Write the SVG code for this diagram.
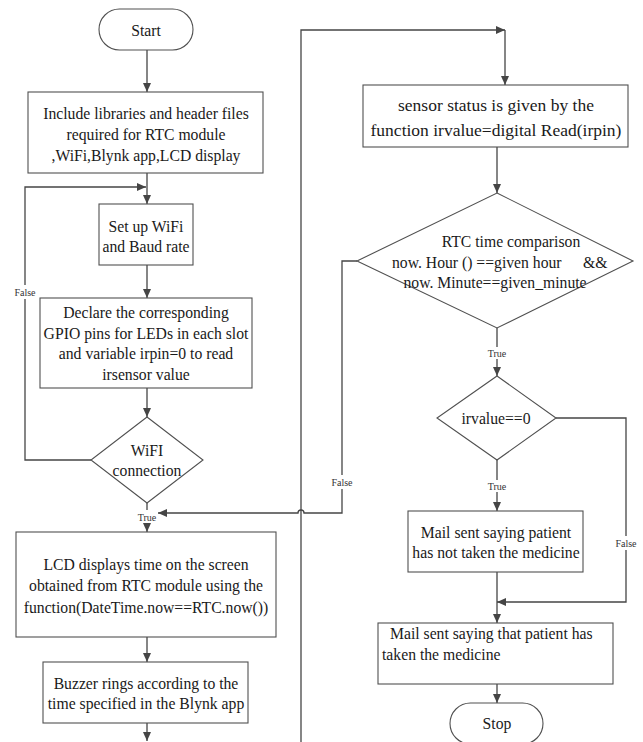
<svg xmlns="http://www.w3.org/2000/svg" width="643" height="742" viewBox="0 0 643 742">
<style>
  .box { fill: #ffffff; stroke: #505050; stroke-width: 1.1; }
  .t { font-size: 15.7px; fill: #1a1a1a; text-anchor: middle; dominant-baseline: central; }
  .tb { font-size: 17.5px; fill: #1a1a1a; text-anchor: middle; dominant-baseline: central; }
  .tl { font-size: 15.7px; fill: #1a1a1a; dominant-baseline: central; }
  .lbl { font-size: 10px; fill: #333333; text-anchor: middle; dominant-baseline: central; }
  .c { fill: none; stroke: #454545; stroke-width: 1.3; }
  .bg { fill: #ffffff; }
</style>
<defs>
  <marker id="arr" markerWidth="10" markerHeight="10" refX="9" refY="5" orient="auto" markerUnits="userSpaceOnUse">
    <path d="M0,1 L9,5 L0,9 Z" fill="#454545"/>
  </marker>
</defs>
<rect width="643" height="742" fill="#ffffff"/>

<g id="connectors">
  <path class="c" d="M147,50 V92" marker-end="url(#arr)"/>
  <path class="c" d="M147,173 V204" marker-end="url(#arr)"/>
  <path class="c" d="M147,265 V298" marker-end="url(#arr)"/>
  <path class="c" d="M147,388 V417" marker-end="url(#arr)"/>
  <path class="c" d="M91,460 H25 V187 H146" marker-end="url(#arr)"/>
  <path class="c" d="M147,502 V510"/>
  <path class="c" d="M147,524 V532" marker-end="url(#arr)"/>
  <path class="c" d="M147,637 V662" marker-end="url(#arr)"/>
  <path class="c" d="M147,723 V741" marker-end="url(#arr)"/>
  <path class="c" d="M301,742 V30 H505" marker-end="url(#arr)"/>
  <path class="c" d="M505,30 V85" marker-end="url(#arr)"/>
  <path class="c" d="M497,147 V193" marker-end="url(#arr)"/>
  <path class="c" d="M497,328 V347"/>
  <path class="c" d="M497,359 V376" marker-end="url(#arr)"/>
  <path class="c" d="M497,460 V480"/>
  <path class="c" d="M497,492 V511" marker-end="url(#arr)"/>
  <path class="c" d="M556,418 H626 V602 H497" marker-end="url(#arr)"/>
  <path class="c" d="M497,572 V623" marker-end="url(#arr)"/>
  <path class="c" d="M497,684 V703" marker-end="url(#arr)"/>
  <path class="c" d="M357,261 H342 V513 H304 A3,3 0 0 0 298,513 H158" marker-end="url(#arr)"/>
  <rect class="bg" x="12" y="285" width="26" height="14"/>
  <text class="lbl" x="25" y="292" font-family="'Liberation Serif', serif">False</text>
  <rect class="bg" x="329" y="475" width="26" height="14"/>
  <text class="lbl" x="342" y="482" font-family="'Liberation Serif', serif">False</text>
  <rect class="bg" x="613" y="536" width="26" height="14"/>
  <text class="lbl" x="626" y="543" font-family="'Liberation Serif', serif">False</text>
  <text class="lbl" x="147" y="517" font-family="'Liberation Serif', serif">True</text>
  <text class="lbl" x="497" y="353" font-family="'Liberation Serif', serif">True</text>
  <text class="lbl" x="497" y="486" font-family="'Liberation Serif', serif">True</text>
</g>

<g id="start">
  <rect class="box" x="99" y="9" width="94" height="41" rx="20.5"/>
  <text class="t" x="146" y="30" font-size="15px" font-family="'Liberation Serif', serif">Start</text>
</g>

<g id="include">
  <rect class="box" x="28" y="92" width="235" height="81"/>
  <text class="t" x="146" y="113" font-family="'Liberation Serif', serif">Include libraries and header files</text>
  <text class="t" x="146" y="134" font-family="'Liberation Serif', serif">required for RTC module</text>
  <text class="t" x="146" y="155" font-family="'Liberation Serif', serif">,WiFi,Blynk app,LCD display</text>
</g>

<g id="setup">
  <rect class="box" x="99" y="204" width="94" height="61"/>
  <text class="t" x="146" y="226" font-family="'Liberation Serif', serif">Set up WiFi</text>
  <text class="t" x="146" y="246" font-family="'Liberation Serif', serif">and Baud rate</text>
</g>

<g id="declare">
  <rect class="box" x="40" y="298" width="212" height="90"/>
  <text class="t" x="146" y="312" font-family="'Liberation Serif', serif">Declare the corresponding</text>
  <text class="t" x="146" y="333" font-family="'Liberation Serif', serif">GPIO pins for LEDs in each slot</text>
  <text class="t" x="146" y="353" font-family="'Liberation Serif', serif">and variable irpin=0 to read</text>
  <text class="t" x="146" y="374" font-family="'Liberation Serif', serif">irsensor value</text>
</g>

<g id="wifi">
  <polygon class="box" points="147,417 203,460 147,503 91,460"/>
  <text class="t" x="147" y="450" font-family="'Liberation Serif', serif">WiFI</text>
  <text class="t" x="147" y="470" font-family="'Liberation Serif', serif">connection</text>
</g>

<g id="lcd">
  <rect class="box" x="16" y="532" width="260" height="105"/>
  <text class="t" x="146" y="564" font-family="'Liberation Serif', serif">LCD displays time on the screen</text>
  <text class="t" x="146" y="585" font-family="'Liberation Serif', serif">obtained from RTC module using the</text>
  <text class="t" x="146" y="607" font-family="'Liberation Serif', serif">function(DateTime.now==RTC.now())</text>
</g>

<g id="buzzer">
  <rect class="box" x="43" y="662" width="205" height="61"/>
  <text class="t" x="146" y="683" font-family="'Liberation Serif', serif">Buzzer rings according to the</text>
  <text class="t" x="146" y="703" font-family="'Liberation Serif', serif">time specified in the Blynk app</text>
</g>

<g id="sensor">
  <rect class="box" x="363" y="85" width="265" height="62"/>
  <text class="tb" x="496" y="105" font-family="'Liberation Serif', serif">sensor status is given by the</text>
  <text class="tb" x="496" y="130" font-family="'Liberation Serif', serif">function irvalue=digital Read(irpin)</text>
</g>

<g id="rtc">
  <polygon class="box" points="497,193 633,261 497,328 357,261"/>
  <text class="t" x="511" y="241" font-family="'Liberation Serif', serif">RTC time comparison</text>
  <text class="tl" x="392" y="262" font-family="'Liberation Serif', serif">now. Hour () ==given hour<tspan x="583">&amp;&amp;</tspan></text>
  <text class="t" x="495" y="282" font-family="'Liberation Serif', serif">now. Minute==given_minute</text>
</g>

<g id="irvalue">
  <polygon class="box" points="497,376 556,418 497,460 437,418"/>
  <text class="t" x="496" y="418" font-family="'Liberation Serif', serif">irvalue==0</text>
</g>

<g id="mailnot">
  <rect class="box" x="408" y="511" width="175" height="61"/>
  <text class="t" x="496" y="532" font-family="'Liberation Serif', serif">Mail sent saying patient</text>
  <text class="t" x="496" y="552" font-family="'Liberation Serif', serif">has not taken the medicine</text>
</g>

<g id="mailtaken">
  <rect class="box" x="378" y="623" width="235" height="61"/>
  <text class="tl" x="390" y="633" font-family="'Liberation Serif', serif">Mail sent saying that patient has</text>
  <text class="tl" x="382" y="654" font-family="'Liberation Serif', serif">taken the medicine</text>
</g>

<g id="stop">
  <rect class="box" x="450" y="703" width="93" height="41" rx="20.5"/>
  <text class="t" x="497" y="723" font-size="15px" font-family="'Liberation Serif', serif">Stop</text>
</g>
</svg>
